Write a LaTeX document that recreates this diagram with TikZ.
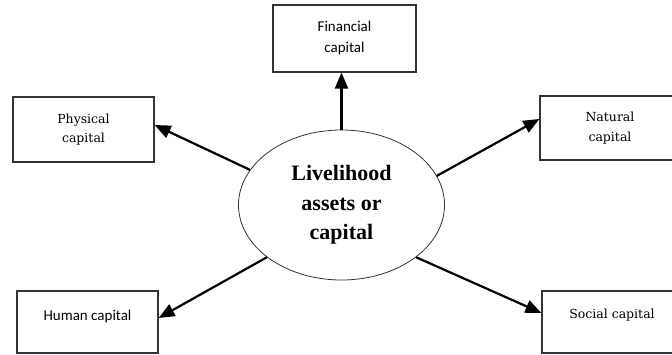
\documentclass[tikz,border=0pt]{standalone}
\usepackage{fontspec}
\setmainfont{Liberation Serif}
\newfontfamily\boxserif{DejaVu Serif}
\newfontfamily\boxsans{Carlito}
\usetikzlibrary{arrows.meta,shapes.geometric}

\begin{document}
\begin{tikzpicture}[x=1pt,y=1pt]
        \tikzstyle{capital}=[rectangle,draw=black!80,line width=1.2pt,inner sep=0pt,align=center]
        \tikzstyle{assets}=[ellipse,draw=black!80,line width=0.8pt,minimum width=206pt,minimum height=150pt,inner sep=0pt,align=center,font=\fontsize{22}{29.5}\selectfont\bfseries]
        \tikzstyle{edge}=[draw,line width=2.2pt,-{Triangle[length=16pt,width=13pt]}]
        \useasboundingbox (0,0) rectangle (672,354);
       \begin{scope}
         \node [assets] (assets) at (341.5,149) {Livelihood\\assets or\\capital};
         \node [capital,minimum width=143pt,minimum height=67pt,font=\boxsans\fontsize{15}{21}\selectfont] (fin) at (344.5,315.5) {Financial\\capital};
         \node [capital,minimum width=141pt,minimum height=65pt,font=\boxserif\fontsize{12.5}{19.5}\selectfont] (phys) at (83.5,224.5) {Physical\\capital};
         \node [capital,minimum width=140pt,minimum height=64pt,font=\boxserif\fontsize{12.5}{19.5}\selectfont] (nat) at (610,226) {Natural\\capital};
         \node [capital,minimum width=141pt,text height=29pt,text depth=33pt,font=\boxsans\fontsize{15}{21}\selectfont] (human) at (87.5,32) {Human capital};
         \node [capital,minimum width=140pt,text height=27pt,text depth=35pt,font=\boxserif\fontsize{12.5}{19.5}\selectfont] (social) at (612,32) {Social capital};
         \path[edge] (assets.90) -- (assets.90 |- fin.south);
         \path[edge] (assets.159) -- ([yshift=4.5pt]phys.east);
         \path[edge] (assets.17) -- ([yshift=9pt]nat.west);
         \path[edge] (assets.215) -- ([yshift=4pt]human.east);
         \path[edge] (assets.325.6) -- ([yshift=9pt]social.west);
        \end{scope}
      \end{tikzpicture}
\end{document}
